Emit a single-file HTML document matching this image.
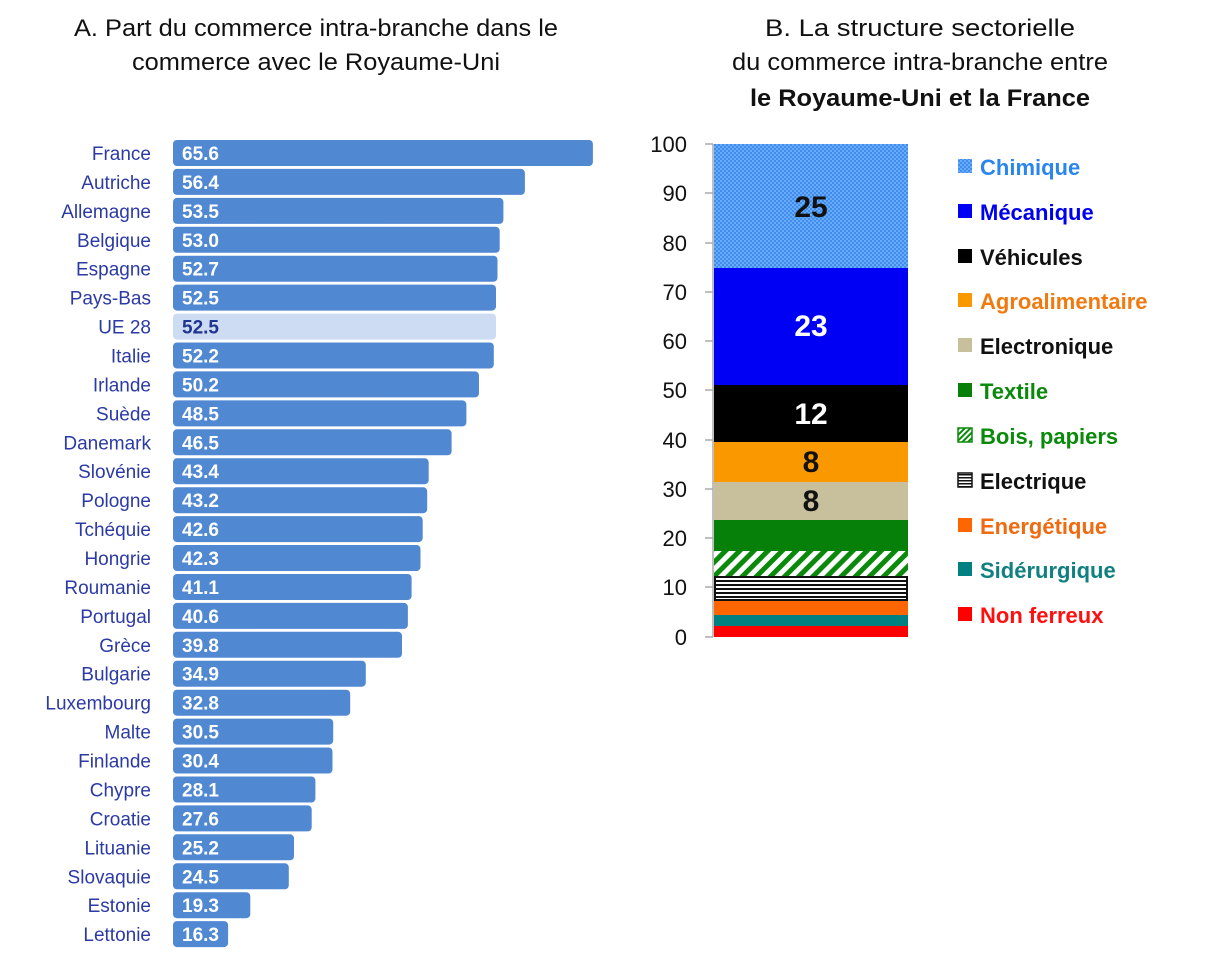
<!DOCTYPE html>
<html><head><meta charset="utf-8"><style>
html,body{margin:0;padding:0;background:#fff;}
svg{display:block;font-family:"Liberation Sans",Arial,sans-serif;}
</style></head><body>
<svg width="1207" height="953" viewBox="0 0 1207 953" xmlns="http://www.w3.org/2000/svg">
<defs>
<pattern id="dots" width="4" height="4" patternUnits="userSpaceOnUse"><rect width="4" height="4" fill="#3d8ef0"/><rect width="2" height="2" fill="#6aaaf6"/><rect x="2" y="2" width="2" height="2" fill="#6aaaf6"/></pattern>
<pattern id="diag" width="10" height="10" patternUnits="userSpaceOnUse" patternTransform="rotate(45)"><rect width="10" height="10" fill="#fff"/><rect width="5" height="10" fill="#0a8a0a"/></pattern>
<pattern id="horiz" width="4" height="4" patternUnits="userSpaceOnUse"><rect width="4" height="4" fill="#fff"/><rect width="4" height="2" fill="#111"/></pattern>
<pattern id="diagS" width="4" height="4" patternUnits="userSpaceOnUse" patternTransform="rotate(45)"><rect width="4" height="4" fill="#fff"/><rect width="2" height="4" fill="#0a8a0a"/></pattern>
<pattern id="horizS" width="3" height="3" patternUnits="userSpaceOnUse"><rect width="3" height="3" fill="#fff"/><rect width="3" height="1.5" fill="#111"/></pattern>
</defs>
<g font-size="24" fill="#111" text-anchor="middle">
<text x="316" y="36" textLength="484" lengthAdjust="spacingAndGlyphs">A. Part du commerce intra-branche dans le</text>
<text x="316" y="70" textLength="368" lengthAdjust="spacingAndGlyphs">commerce avec le Royaume-Uni</text>
<text x="920" y="36" textLength="310" lengthAdjust="spacingAndGlyphs">B. La structure sectorielle</text>
<text x="920" y="70" textLength="376" lengthAdjust="spacingAndGlyphs">du commerce intra-branche entre</text>
<text x="920" y="106" font-weight="bold" textLength="340" lengthAdjust="spacingAndGlyphs">le Royaume-Uni et la France</text>
</g>
<g font-size="19">
<g transform="translate(0,153)"><rect x="173" y="-13" width="419.9" height="26" rx="4" fill="#5088d2"/><text x="182" y="7" font-weight="bold" fill="#fff">65.6</text><text x="151" y="7" fill="#2b3aa5" text-anchor="end">France</text></g>
<g transform="translate(0,181.9)"><rect x="173" y="-13" width="351.9" height="26" rx="4" fill="#5088d2"/><text x="182" y="7" font-weight="bold" fill="#fff">56.4</text><text x="151" y="7" fill="#2b3aa5" text-anchor="end">Autriche</text></g>
<g transform="translate(0,210.9)"><rect x="173" y="-13" width="330.4" height="26" rx="4" fill="#5088d2"/><text x="182" y="7" font-weight="bold" fill="#fff">53.5</text><text x="151" y="7" fill="#2b3aa5" text-anchor="end">Allemagne</text></g>
<g transform="translate(0,239.8)"><rect x="173" y="-13" width="326.7" height="26" rx="4" fill="#5088d2"/><text x="182" y="7" font-weight="bold" fill="#fff">53.0</text><text x="151" y="7" fill="#2b3aa5" text-anchor="end">Belgique</text></g>
<g transform="translate(0,268.7)"><rect x="173" y="-13" width="324.5" height="26" rx="4" fill="#5088d2"/><text x="182" y="7" font-weight="bold" fill="#fff">52.7</text><text x="151" y="7" fill="#2b3aa5" text-anchor="end">Espagne</text></g>
<g transform="translate(0,297.6)"><rect x="173" y="-13" width="323" height="26" rx="4" fill="#5088d2"/><text x="182" y="7" font-weight="bold" fill="#fff">52.5</text><text x="151" y="7" fill="#2b3aa5" text-anchor="end">Pays-Bas</text></g>
<g transform="translate(0,326.6)"><rect x="173" y="-13" width="323" height="26" rx="4" fill="#cddcf2"/><text x="182" y="7" font-weight="bold" fill="#1f3590">52.5</text><text x="151" y="7" fill="#2b3aa5" text-anchor="end">UE 28</text></g>
<g transform="translate(0,355.5)"><rect x="173" y="-13" width="320.8" height="26" rx="4" fill="#5088d2"/><text x="182" y="7" font-weight="bold" fill="#fff">52.2</text><text x="151" y="7" fill="#2b3aa5" text-anchor="end">Italie</text></g>
<g transform="translate(0,384.4)"><rect x="173" y="-13" width="306" height="26" rx="4" fill="#5088d2"/><text x="182" y="7" font-weight="bold" fill="#fff">50.2</text><text x="151" y="7" fill="#2b3aa5" text-anchor="end">Irlande</text></g>
<g transform="translate(0,413.4)"><rect x="173" y="-13" width="293.4" height="26" rx="4" fill="#5088d2"/><text x="182" y="7" font-weight="bold" fill="#fff">48.5</text><text x="151" y="7" fill="#2b3aa5" text-anchor="end">Suède</text></g>
<g transform="translate(0,442.3)"><rect x="173" y="-13" width="278.6" height="26" rx="4" fill="#5088d2"/><text x="182" y="7" font-weight="bold" fill="#fff">46.5</text><text x="151" y="7" fill="#2b3aa5" text-anchor="end">Danemark</text></g>
<g transform="translate(0,471.2)"><rect x="173" y="-13" width="255.7" height="26" rx="4" fill="#5088d2"/><text x="182" y="7" font-weight="bold" fill="#fff">43.4</text><text x="151" y="7" fill="#2b3aa5" text-anchor="end">Slovénie</text></g>
<g transform="translate(0,500.2)"><rect x="173" y="-13" width="254.2" height="26" rx="4" fill="#5088d2"/><text x="182" y="7" font-weight="bold" fill="#fff">43.2</text><text x="151" y="7" fill="#2b3aa5" text-anchor="end">Pologne</text></g>
<g transform="translate(0,529.1)"><rect x="173" y="-13" width="249.7" height="26" rx="4" fill="#5088d2"/><text x="182" y="7" font-weight="bold" fill="#fff">42.6</text><text x="151" y="7" fill="#2b3aa5" text-anchor="end">Tchéquie</text></g>
<g transform="translate(0,558)"><rect x="173" y="-13" width="247.5" height="26" rx="4" fill="#5088d2"/><text x="182" y="7" font-weight="bold" fill="#fff">42.3</text><text x="151" y="7" fill="#2b3aa5" text-anchor="end">Hongrie</text></g>
<g transform="translate(0,587)"><rect x="173" y="-13" width="238.6" height="26" rx="4" fill="#5088d2"/><text x="182" y="7" font-weight="bold" fill="#fff">41.1</text><text x="151" y="7" fill="#2b3aa5" text-anchor="end">Roumanie</text></g>
<g transform="translate(0,615.9)"><rect x="173" y="-13" width="234.9" height="26" rx="4" fill="#5088d2"/><text x="182" y="7" font-weight="bold" fill="#fff">40.6</text><text x="151" y="7" fill="#2b3aa5" text-anchor="end">Portugal</text></g>
<g transform="translate(0,644.8)"><rect x="173" y="-13" width="229" height="26" rx="4" fill="#5088d2"/><text x="182" y="7" font-weight="bold" fill="#fff">39.8</text><text x="151" y="7" fill="#2b3aa5" text-anchor="end">Grèce</text></g>
<g transform="translate(0,673.7)"><rect x="173" y="-13" width="192.8" height="26" rx="4" fill="#5088d2"/><text x="182" y="7" font-weight="bold" fill="#fff">34.9</text><text x="151" y="7" fill="#2b3aa5" text-anchor="end">Bulgarie</text></g>
<g transform="translate(0,702.7)"><rect x="173" y="-13" width="177.2" height="26" rx="4" fill="#5088d2"/><text x="182" y="7" font-weight="bold" fill="#fff">32.8</text><text x="151" y="7" fill="#2b3aa5" text-anchor="end">Luxembourg</text></g>
<g transform="translate(0,731.6)"><rect x="173" y="-13" width="160.2" height="26" rx="4" fill="#5088d2"/><text x="182" y="7" font-weight="bold" fill="#fff">30.5</text><text x="151" y="7" fill="#2b3aa5" text-anchor="end">Malte</text></g>
<g transform="translate(0,760.5)"><rect x="173" y="-13" width="159.5" height="26" rx="4" fill="#5088d2"/><text x="182" y="7" font-weight="bold" fill="#fff">30.4</text><text x="151" y="7" fill="#2b3aa5" text-anchor="end">Finlande</text></g>
<g transform="translate(0,789.5)"><rect x="173" y="-13" width="142.4" height="26" rx="4" fill="#5088d2"/><text x="182" y="7" font-weight="bold" fill="#fff">28.1</text><text x="151" y="7" fill="#2b3aa5" text-anchor="end">Chypre</text></g>
<g transform="translate(0,818.4)"><rect x="173" y="-13" width="138.7" height="26" rx="4" fill="#5088d2"/><text x="182" y="7" font-weight="bold" fill="#fff">27.6</text><text x="151" y="7" fill="#2b3aa5" text-anchor="end">Croatie</text></g>
<g transform="translate(0,847.3)"><rect x="173" y="-13" width="121" height="26" rx="4" fill="#5088d2"/><text x="182" y="7" font-weight="bold" fill="#fff">25.2</text><text x="151" y="7" fill="#2b3aa5" text-anchor="end">Lituanie</text></g>
<g transform="translate(0,876.3)"><rect x="173" y="-13" width="115.8" height="26" rx="4" fill="#5088d2"/><text x="182" y="7" font-weight="bold" fill="#fff">24.5</text><text x="151" y="7" fill="#2b3aa5" text-anchor="end">Slovaquie</text></g>
<g transform="translate(0,905.2)"><rect x="173" y="-13" width="77.3" height="26" rx="4" fill="#5088d2"/><text x="182" y="7" font-weight="bold" fill="#fff">19.3</text><text x="151" y="7" fill="#2b3aa5" text-anchor="end">Estonie</text></g>
<g transform="translate(0,934.1)"><rect x="173" y="-13" width="55.1" height="26" rx="4" fill="#5088d2"/><text x="182" y="7" font-weight="bold" fill="#fff">16.3</text><text x="151" y="7" fill="#2b3aa5" text-anchor="end">Lettonie</text></g>
</g>
<g font-size="22" fill="#111" text-anchor="end">
<text x="687" y="152">100</text><text x="687" y="201">90</text><text x="687" y="251">80</text><text x="687" y="300">70</text><text x="687" y="349">60</text><text x="687" y="398">50</text><text x="687" y="448">40</text><text x="687" y="497">30</text><text x="687" y="546">20</text><text x="687" y="595">10</text><text x="687" y="645">0</text>
</g>
<g stroke="#aaa" stroke-width="1.5">
<line x1="713" y1="144" x2="713" y2="637"/>
<line x1="705" y1="144" x2="713" y2="144"/><line x1="705" y1="193" x2="713" y2="193"/><line x1="705" y1="243" x2="713" y2="243"/><line x1="705" y1="292" x2="713" y2="292"/><line x1="705" y1="341" x2="713" y2="341"/><line x1="705" y1="390" x2="713" y2="390"/><line x1="705" y1="440" x2="713" y2="440"/><line x1="705" y1="489" x2="713" y2="489"/><line x1="705" y1="538" x2="713" y2="538"/><line x1="705" y1="587" x2="713" y2="587"/><line x1="705" y1="637" x2="713" y2="637"/>
</g>
<rect x="714" y="144" width="194" height="124" fill="url(#dots)"/>
<rect x="714" y="268" width="194" height="117" fill="#0000f5"/>
<rect x="714" y="385" width="194" height="57" fill="#000"/>
<rect x="714" y="442" width="194" height="40" fill="#fa9800"/>
<rect x="714" y="482" width="194" height="38" fill="#c8bf9c"/>
<rect x="714" y="520" width="194" height="31" fill="#07800a"/>
<rect x="714" y="551" width="194" height="25" fill="url(#diag)"/>
<rect x="715" y="577" width="192" height="23" fill="url(#horiz)" stroke="#111" stroke-width="2"/>
<rect x="714" y="601" width="194" height="14" fill="#ff6600"/>
<rect x="714" y="615" width="194" height="11" fill="#008080"/>
<rect x="714" y="626" width="194" height="11" fill="#ff0000"/>
<g font-size="30" font-weight="bold" text-anchor="middle">
<text x="811" y="217" fill="#111">25</text>
<text x="811" y="336" fill="#fff">23</text>
<text x="811" y="424" fill="#fff">12</text>
<text x="811" y="472" fill="#111">8</text>
<text x="811" y="511" fill="#111">8</text>
</g>
<g font-size="22" font-weight="bold">
<rect x="958" y="159" width="14" height="14" fill="url(#dots)"/><text x="980" y="175" fill="#2a86ee">Chimique</text>
<rect x="958" y="204" width="14" height="14" fill="#0000f5"/><text x="980" y="220" fill="#0000f0">Mécanique</text>
<rect x="958" y="249" width="14" height="14" fill="#000"/><text x="980" y="265" fill="#111">Véhicules</text>
<rect x="958" y="293" width="14" height="14" fill="#fa9800"/><text x="980" y="309" fill="#f07a10">Agroalimentaire</text>
<rect x="958" y="338" width="14" height="14" fill="#c8bf9c"/><text x="980" y="354" fill="#111">Electronique</text>
<rect x="958" y="383" width="14" height="14" fill="#07800a"/><text x="980" y="399" fill="#0a8a0a">Textile</text>
<rect x="958" y="428" width="14" height="14" fill="url(#diagS)" stroke="#0a8a0a" stroke-width="1.5"/><text x="980" y="444" fill="#0a8a0a">Bois, papiers</text>
<rect x="958" y="473" width="14" height="14" fill="url(#horizS)" stroke="#111" stroke-width="1.5"/><text x="980" y="489" fill="#111">Electrique</text>
<rect x="958" y="518" width="14" height="14" fill="#ff6600"/><text x="980" y="534" fill="#f06a10">Energétique</text>
<rect x="958" y="562" width="14" height="14" fill="#008080"/><text x="980" y="578" fill="#108080">Sidérurgique</text>
<rect x="958" y="607" width="14" height="14" fill="#ff0000"/><text x="980" y="623" fill="#ff1010">Non ferreux</text>
</g>
</svg>
</body></html>
